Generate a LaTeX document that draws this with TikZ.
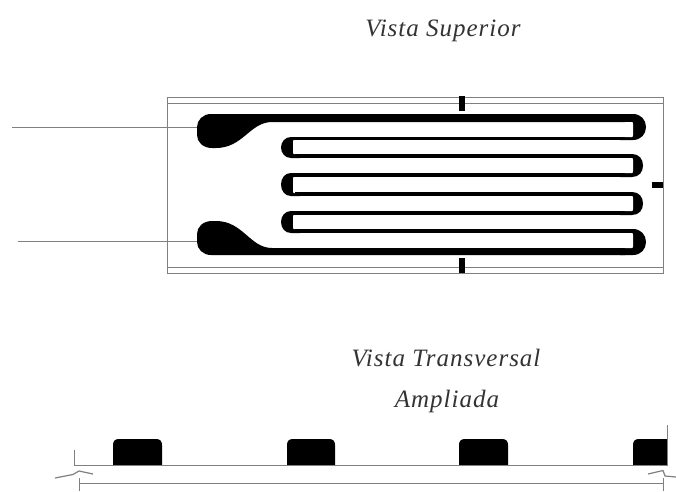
\documentclass[tikz,border=0pt]{standalone}
\usepackage{fontspec}
\setmainfont{Liberation Serif}
\newfontfamily\capfont[LetterSpace=4]{Liberation Serif}
\tikzset{
  hair/.style={draw=black!50,line width=0.9pt},
  zig/.style={draw=black!50,line width=1.2pt},
  ink/.style={fill=black,draw=none},
  gap/.style={fill=white,draw=none},
  caption/.style={inner sep=0pt,anchor=base,text=black!80,font=\capfont\fontsize{25}{30}\selectfont\itshape}
}
\begin{document}
\begin{tikzpicture}[x=1pt,y=-1pt]
\useasboundingbox (0,0) rectangle (676,491);
\fill[white] (0,0) rectangle (676,491);
% titles
\node[caption] (t1) at (443,36) {Vista Superior};
\node[caption] (t2) at (446,366) {Vista Transversal};
\node[caption] (t3) at (447,407) {Ampliada};
% carrier
\draw[hair] (167,97) rectangle (663,273);
\draw[hair] (167,103) -- (663,103);
\draw[hair] (167,267) -- (663,267);
% leads
\draw[hair] (12,127) -- (198,127);
\draw[hair] (18,241) -- (198,241);
% alignment marks
\fill[ink] (459,96) rectangle (465,111);
\fill[ink] (459,258) rectangle (465,273);
\fill[ink] (652,182) rectangle (663,188);
% right hairpins
\fill[ink] (620,114) -- (633,114) .. controls (641,114) and (646,120) .. (646,127) .. controls (646,134) and (641,140) .. (633,140) -- (620,140) -- cycle;
\fill[ink] (620,154) -- (632,154) .. controls (639,154) and (643,159) .. (643,165.5) .. controls (643,172) and (639,177) .. (632,177) -- (620,177) -- cycle;
\fill[ink] (620,192) -- (632,192) .. controls (639,192) and (643,197) .. (643,203.5) .. controls (643,210) and (639,215) .. (632,215) -- (620,215) -- cycle;
\fill[ink] (620,229) -- (633,229) .. controls (641,229) and (646,235) .. (646,242) .. controls (646,249) and (641,255) .. (633,255) -- (620,255) -- cycle;
% left hairpins
\fill[ink] (300,137) -- (291,137) .. controls (285,137) and (281,142) .. (281,147.5) .. controls (281,153) and (285,158) .. (291,158) -- (300,158) -- cycle;
\fill[ink] (300,173) -- (291,173) .. controls (285,173) and (281,178) .. (281,184.5) .. controls (281,191) and (285,196) .. (291,196) -- (300,196) -- cycle;
\fill[ink] (300,211) -- (291,211) .. controls (285,211) and (281,216) .. (281,222) .. controls (281,228) and (285,233) .. (291,233) -- (300,233) -- cycle;
% hairpin interiors
\fill[gap] (610,122) -- (632,122) .. controls (633,122) and (633,123) .. (633,124) -- (633,135) .. controls (633,136) and (633,137) .. (632,137) -- (610,137) -- cycle;
\fill[gap] (610,158) -- (632,158) .. controls (633,158) and (633,159) .. (633,160) -- (633,171) .. controls (633,172) and (633,173) .. (632,173) -- (610,173) -- cycle;
\fill[gap] (610,196) -- (632,196) .. controls (633,196) and (633,197) .. (633,198) -- (633,209) .. controls (633,210) and (633,211) .. (632,211) -- (610,211) -- cycle;
\fill[gap] (610,233) -- (632,233) .. controls (633,233) and (633,234) .. (633,235) -- (633,246) .. controls (633,247) and (633,248) .. (632,248) -- (610,248) -- cycle;
\fill[gap] (310,140) -- (294,140) .. controls (293,140) and (293,141) .. (293,142) -- (293,152) .. controls (293,153) and (293,154) .. (294,154) -- (310,154) -- cycle;
\fill[gap] (310,177) -- (294,177) .. controls (293,177) and (293,178) .. (293,179) -- (293,191) .. controls (293,192) and (293,193) .. (294,193) -- (310,193) -- cycle;
\fill[gap] (310,215) -- (294,215) .. controls (293,215) and (293,216) .. (293,217) -- (293,227) .. controls (293,228) and (293,229) .. (294,229) -- (310,229) -- cycle;
% grid lines
\fill[ink] (295,137) rectangle (625,140);
\fill[ink] (295,154) rectangle (625,158);
\fill[ink] (295,173) rectangle (625,177);
\fill[ink] (295,192) rectangle (625,196);
\fill[ink] (295,211) rectangle (625,215);
\fill[ink] (295,229) rectangle (625,233);
% pads with thick runs
\fill[ink] (211,114) -- (625,114) -- (625,122) -- (272,122)
  .. controls (250,122) and (243,148) .. (216,148) -- (212,148)
  .. controls (203,148) and (197,142) .. (197,135) -- (197,127)
  .. controls (197,120) and (203,114) .. (211,114) -- cycle;
\fill[ink] (211,255) -- (625,255) -- (625,248) -- (272,248)
  .. controls (250,248) and (243,221) .. (216,221) -- (212,221)
  .. controls (203,221) and (197,227) .. (197,234) -- (197,242)
  .. controls (197,249) and (203,255) .. (211,255) -- cycle;
% cross-section blocks
\foreach \a/\b in {113/162,287/335,459/508}{
  \fill[ink] (\a,465) -- (\a,445) .. controls (\a,441) and (\a+2,439) .. (\a+6,439) -- (\b-6,439) .. controls (\b-2,439) and (\b,441) .. (\b,445) -- (\b,465) -- cycle;
}
\fill[ink] (667,465) -- (633,465) -- (633,445) .. controls (633,441) and (635,439) .. (639,439) -- (667,439) -- cycle;
% substrate
\draw[hair] (74,450) -- (74,465) -- (667,465) -- (667,425);
\draw[hair] (79,483) -- (663,483);
\draw[hair] (79,478) -- (79,491);
\draw[hair] (663,478) -- (663,491);
\draw[zig] (55,478) -- (73,474.5) -- (79,471) -- (93,474);
\draw[zig] (648,474) -- (663,470.5) -- (665,476) -- (676,477);
\end{tikzpicture}
\end{document}
